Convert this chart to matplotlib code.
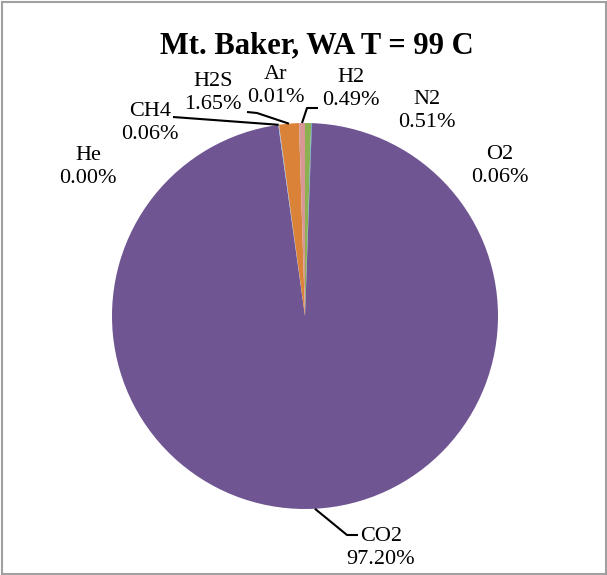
import numpy as np
import matplotlib
matplotlib.use("Agg")
import matplotlib.pyplot as plt
from matplotlib.patches import Rectangle

# ---- data (clockwise from 12 o'clock) ----
gases = ["N2", "O2", "CO2", "He", "CH4", "H2S", "Ar", "H2"]
percents = [0.51, 0.06, 97.20, 0.00, 0.06, 1.65, 0.01, 0.49]
pct_labels = ["0.51%", "0.06%", "97.20%", "0.00%", "0.06%", "1.65%", "0.01%", "0.49%"]
colors = ["#8DB050", "#4BACC6", "#6F5692", "#C0504D", "#8EB4E3", "#DA8238", "#A5A5A5", "#D89694"]
title = "Mt. Baker, WA T = 99 C"

W, H = 607, 575
fig = plt.figure(figsize=(W / 100, H / 100), dpi=100)
fig.patch.set_facecolor("white")

cx, cy, R = 305, 316, 193
ax = fig.add_axes([(cx - R) / W, (H - cy - R) / H, 2 * R / W, 2 * R / H])
ax.axis("off")

ax.pie(percents, colors=colors, startangle=90, counterclock=False, radius=1.0,
       center=(0, 0), frame=False, wedgeprops=dict(linewidth=0))
ax.set_xlim(-1, 1)
ax.set_ylim(-1, 1)
ax.set_aspect("auto")

def d(px, py):
    return (px - cx) / R, (cy - py) / R

# label centres (pixel reading)
label_pos = {
    "N2": (427, 111), "O2": (500, 166), "CO2": (381, 548), "He": (88, 167),
    "CH4": (150, 123), "H2S": (213, 93), "Ar": (276, 86), "H2": (351, 89),
}
font = "Liberation Serif"
for g, p in zip(gases, pct_labels):
    x, y = d(*label_pos[g])
    ax.text(x, y, f"{g}\n{p}", ha="center", va="center", fontsize=16,
            family=font, linespacing=1.28, clip_on=False)

# leader lines
total = sum(percents)
cum = np.cumsum([0] + percents)
def edge(i, frac=0.5):
    t = np.deg2rad(360 * (cum[i] + frac * percents[i]) / total)
    return np.sin(t), np.cos(t)

leaders = {
    "CH4": [(173, 117)],
    "H2S": [(247, 112), (257, 113)],
    "H2": [(318, 108), (307, 108)],
    "CO2": [(358, 535), (347, 535)],
}
for g, pts in leaders.items():
    i = gases.index(g)
    xs = [d(*p)[0] for p in pts] + [edge(i)[0]]
    ys = [d(*p)[1] for p in pts] + [edge(i)[1]]
    ax.plot(xs, ys, color="black", lw=1.5, clip_on=False, solid_capstyle="butt")

fig.text(317 / W, (H - 53) / H, title, ha="center", va="baseline",
         fontsize=22, fontweight="bold", family=font)

fig.patches.append(Rectangle((2 / W, 1 / H), 604 / W, 572 / H, transform=fig.transFigure,
                             fill=False, edgecolor="#A0A0A0", lw=1.5))

fig.savefig("out.png", dpi=100)
